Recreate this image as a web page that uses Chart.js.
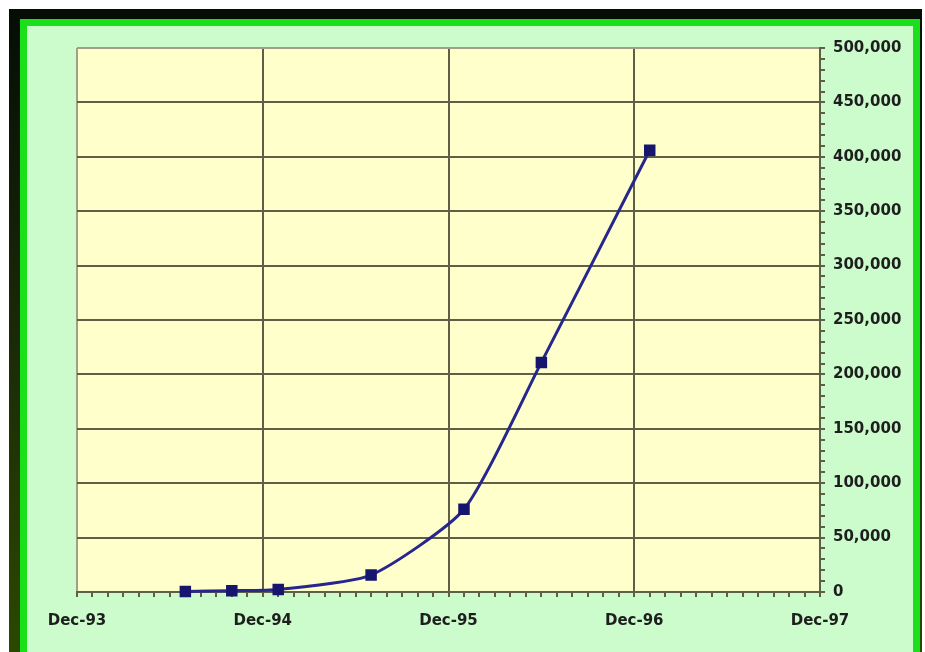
<!DOCTYPE html>
<html>
<head>
<meta charset="utf-8">
<script src="https://cdn.jsdelivr.net/npm/chart.js@4.4.1/dist/chart.umd.min.js"></script>
<style>
  html, body { margin: 0; padding: 0; background: #ffffff; }
  #frame {
    position: absolute; left: 9px; top: 9px; width: 913px; height: 660px;
    background: linear-gradient(#050d05, #1a2a08 50%, #2c4a00);
  }
  #inner {
    position: absolute; left: 11px; top: 10px; right: 2px; bottom: 0;
    border: 7px solid #19e019;
    background: #ccfccc;
  }
  #wrap { position: absolute; left: 0; top: 0; width: 925px; height: 652px; }
</style>
</head>
<body>
<div id="frame"><div id="inner"></div></div>
<div id="wrap"><canvas id="growth" width="925" height="652"></canvas></div>
<script>
// months counted from Dec-93
const months = [7, 10, 13, 19, 25, 30, 37]
const counts = [500, 1200, 2300, 15600, 76000, 211000, 406000]
const xLabels = ['Dec-93', 'Dec-94', 'Dec-95', 'Dec-96', 'Dec-97']
const yMax = 500000

const gridDark = '#5f5f47'
const gridEdge = '#a0a088'

// fills the plot area yellow like the old excel chart
const plotBg = {
  id: 'plotBg',
  beforeDraw(chart) {
    const a = chart.chartArea
    const c = chart.ctx
    c.save()
    c.fillStyle = '#ffffcc'
    c.fillRect(a.left, a.top, a.right - a.left, a.bottom - a.top)
    c.restore()
  }
}

const ctx = document.getElementById('growth').getContext('2d')
new Chart(ctx, {
  type: 'line',
  data: {
    datasets: [{
      data: months.map((m, i) => ({ x: m, y: counts[i] })),
      borderColor: '#26268e',
      borderWidth: 3,
      tension: 0.2,
      pointStyle: 'rect',
      pointRadius: 6,
      pointBackgroundColor: '#16166e',
      pointBorderColor: '#16166e',
      clip: false
    }]
  },
  options: {
    responsive: false,
    animation: false,
    layout: { padding: { left: 77, top: 48, right: 0, bottom: 0 } },
    plugins: { legend: { display: false }, tooltip: { enabled: false } },
    scales: {
      x: {
        type: 'linear',
        min: 0,
        max: 48,
        afterFit(scale) { scale.height = 60 },
        ticks: {
          stepSize: 1,
          autoSkip: false,
          maxRotation: 0,
          padding: 15,
          color: '#1e1e1e',
          font: { family: 'DejaVu Sans', weight: 'bold', size: 15 },
          callback: v => (v % 12 === 0 ? xLabels[v / 12] : '')
        },
        grid: {
          lineWidth: 2,
          tickLength: 5,
          color: c => (c.tick && c.tick.value % 12 === 0 ? (c.tick.value === 0 ? gridEdge : gridDark) : 'rgba(0,0,0,0)'),
          tickColor: gridDark
        },
        border: { color: gridDark, width: 2 }
      },
      y: {
        position: 'right',
        min: 0,
        max: yMax,
        afterFit(scale) { scale.width = 105 },
        ticks: {
          stepSize: 10000,
          autoSkip: false,
          padding: 8,
          color: '#1e1e1e',
          font: { family: 'DejaVu Sans', weight: 'bold', size: 15 },
          callback: v => (v % 50000 === 0 ? v.toLocaleString('en-US') : '')
        },
        grid: {
          lineWidth: 2,
          tickLength: 5,
          color: c => (c.tick && c.tick.value % 50000 === 0 ? (c.tick.value === yMax ? gridEdge : gridDark) : 'rgba(0,0,0,0)'),
          tickColor: gridDark
        },
        border: { color: gridDark, width: 2 }
      }
    }
  },
  plugins: [plotBg]
})
</script>
</body>
</html>
